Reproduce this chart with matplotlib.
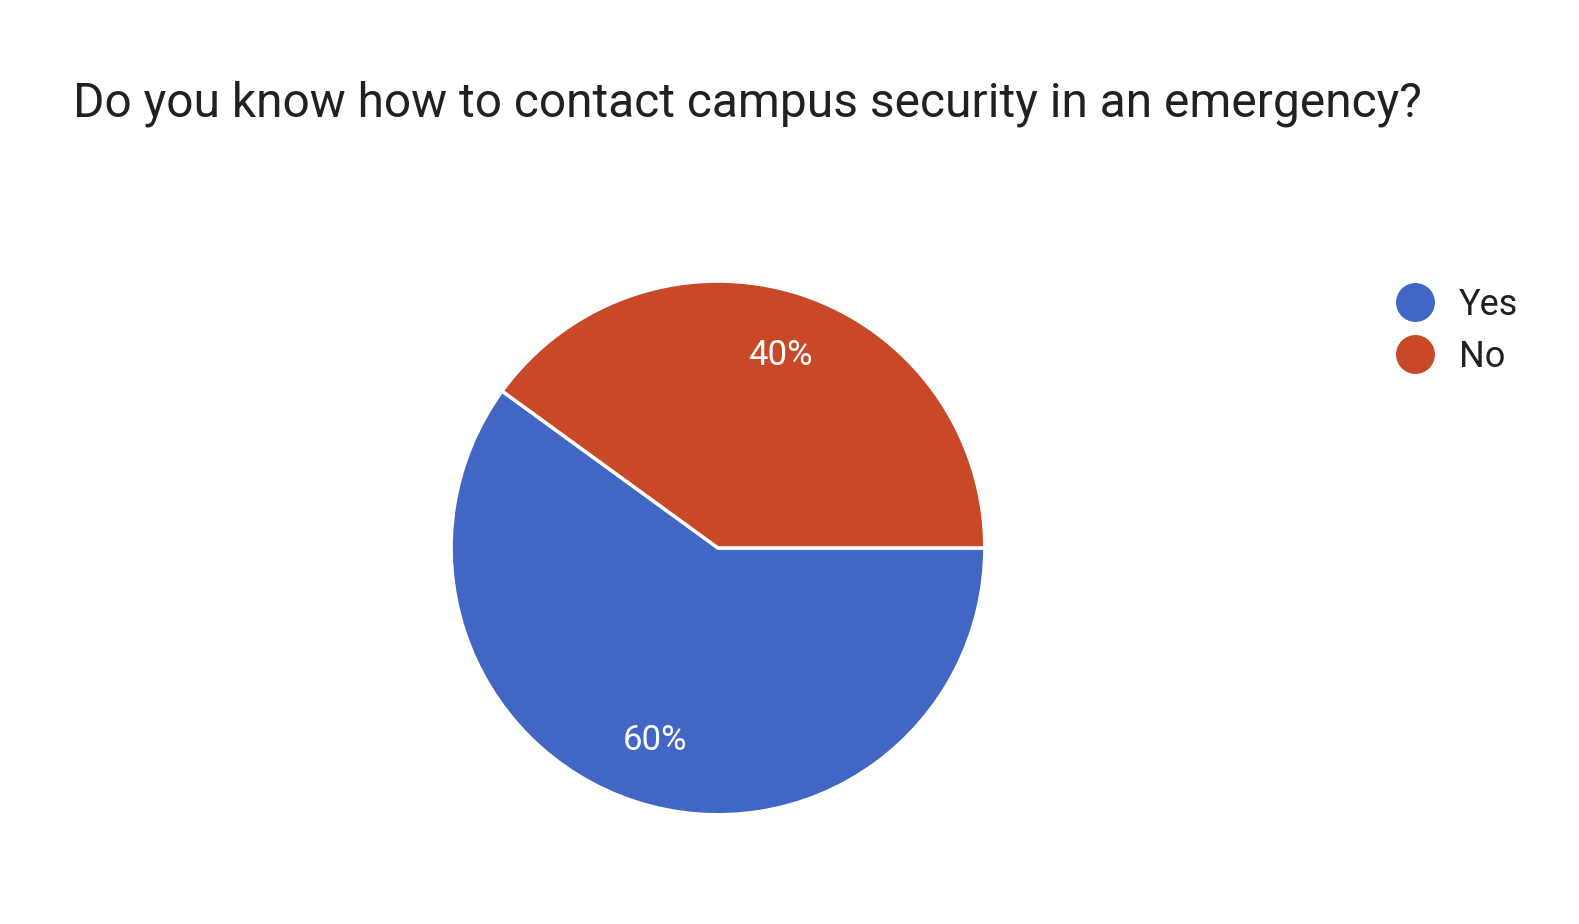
import matplotlib
matplotlib.use('Agg')
import matplotlib.pyplot as plt
from matplotlib.lines import Line2D

plt.rcParams['font.family'] = ['Roboto', 'DejaVu Sans']

labels = ['Yes', 'No']
values = [60, 40]
colors = ['#4166c3', '#c84828']
title = 'Do you know how to contact campus security in an emergency?'

fig = plt.figure(figsize=(15.79, 9.24), dpi=100)
ax = fig.add_axes([0.4547 - 0.169, 0.407 - 0.289, 0.338, 0.578])
wedges, texts, autotexts = ax.pie(
    values, colors=colors, startangle=144, counterclock=True,
    autopct='%d%%', pctdistance=0.76,
    wedgeprops=dict(edgecolor='white', linewidth=2.5),
    textprops=dict(color='white', fontsize=25))
ax.set_xlim(-1, 1)
ax.set_ylim(-1, 1)
ax.set_aspect('equal')

fig.text(0.046, 0.888, title, fontsize=34.5, color='#212121', va='center', ha='left')

handles = [Line2D([], [], marker='o', linestyle='', markersize=27,
                  markerfacecolor=c, markeredgecolor=c) for c in colors]
fig.legend(handles, labels, loc='upper left', bbox_to_anchor=(0.853, 0.725),
           frameon=False, fontsize=26, handletextpad=0.2, labelspacing=0.45,
           labelcolor='#212121')

fig.savefig('out.png', dpi=100)
